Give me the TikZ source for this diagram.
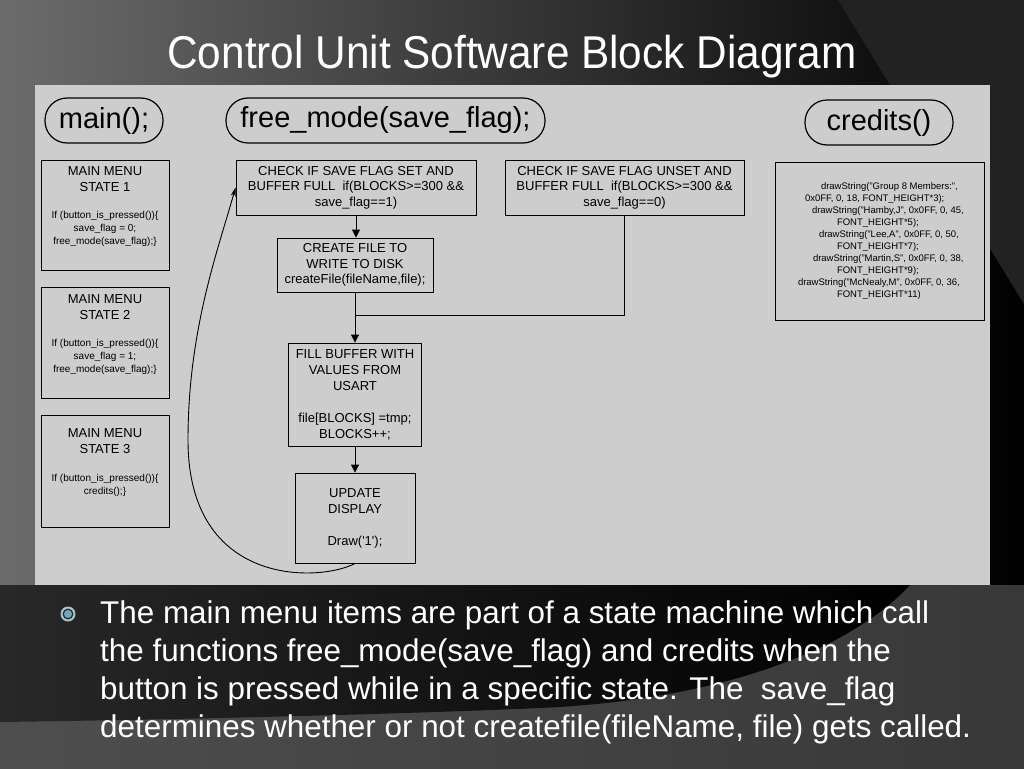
\documentclass[tikz,border=0pt]{standalone}
\usepackage{fontspec}
\setmainfont{Liberation Sans}
\newfontfamily\titlefont[FakeStretch=0.92]{Liberation Sans}
\usetikzlibrary{arrows.meta}

\definecolor{slidegray}{RGB}{108,108,108}
\definecolor{stripgray}{RGB}{34,34,34}
\definecolor{floorgray}{RGB}{78,78,78}
\definecolor{floordark}{RGB}{56,56,56}
\definecolor{swooshgray}{RGB}{40,40,40}
\definecolor{panelgray}{RGB}{205,205,205}
\definecolor{ringblue}{RGB}{170,196,204}
\definecolor{dotblue}{RGB}{112,168,184}

\begin{document}
\begin{tikzpicture}[x=1pt, y=-1pt,
    pill/.style={draw, line width=1.2pt, rounded corners=22pt, minimum height=45pt,
        inner sep=0pt, font=\fontsize{29}{34}\selectfont},
    blockbox/.style={draw, line width=0.9pt, align=center, inner sep=0pt,
        font=\fontsize{13}{15.5}\selectfont},
    menubox/.style={draw, line width=0.9pt, inner sep=0pt},
    flow/.style={line width=0.9pt, -{Triangle[length=8pt,width=8pt]}},
    loopback/.style={line width=0.9pt, -{Stealth[length=9pt,width=5pt]}}
]
    \useasboundingbox (0,0) rectangle (1024,768);

    % Slide background
    \shade[left color=slidegray, right color=black] (0,0) rectangle (1024,768);
    \fill[stripgray] (838,0) -- (1024,0) -- (1024,304) -- cycle;
    \shade[left color=floorgray, right color=floordark] (0,585) rectangle (1024,768);
    \shade[left color=swooshgray, right color=black]
        (0,585) -- (910,585) .. controls (850,650) and (720,700) .. (540,708)
        .. controls (380,715) and (150,720) .. (0,722) -- cycle;

    % Title
    \node[anchor=base, text=white, font=\titlefont\fontsize{46}{50}\selectfont] (title)
        at (512,68) {Control Unit Software Block Diagram};

    % Diagram panel
    \fill[panelgray] (35,85) rectangle (990,585);

    % Function headers
    \node[pill, minimum width=118pt] (mainfn) at (104,120.5) {main();};
    \node[pill, minimum width=319pt] (freefn) at (385.5,120.5) {free\_mode(save\_flag);};
    \node[pill, minimum width=148pt] (creditsfn) at (879,122.5) {credits()};

    % Main menu states (left column)
    \node[menubox] (state1) at (105,215) {\parbox[c][110pt][t]{128pt}{\centering
        \vspace*{7pt}\fontsize{13}{16}\selectfont MAIN MENU\\STATE 1\par
        \vspace{14pt}\fontsize{10}{13}\selectfont
        If (button\_is\_pressed())\{\\save\_flag = 0;\\free\_mode(save\_flag);\}}};
    \node[menubox] (state2) at (105,342.5) {\parbox[c][111pt][t]{128pt}{\centering
        \vspace*{8pt}\fontsize{13}{16}\selectfont MAIN MENU\\STATE 2\par
        \vspace{14pt}\fontsize{10}{13}\selectfont
        If (button\_is\_pressed())\{\\save\_flag = 1;\\free\_mode(save\_flag);\}}};
    \node[menubox] (state3) at (105,471) {\parbox[c][112pt][t]{128pt}{\centering
        \vspace*{14pt}\fontsize{13}{16}\selectfont MAIN MENU\\STATE 3\par
        \vspace{15pt}\fontsize{10}{13}\selectfont
        If (button\_is\_pressed())\{\\credits();\}}};

    % free_mode blocks
    \node[blockbox, minimum width=240pt, minimum height=55pt] (chkset) at (356,187.5)
        {CHECK IF SAVE FLAG SET AND\\BUFFER FULL\ \ if(BLOCKS>=300 \&\&\\save\_flag==1)};
    \node[blockbox, minimum width=239pt, minimum height=55pt] (chkunset) at (624.5,187.5)
        {CHECK IF SAVE FLAG UNSET AND\\BUFFER FULL\ \ if(BLOCKS>=300 \&\&\\save\_flag==0)};
    \node[blockbox, minimum width=156pt, minimum height=54pt] (create) at (355,265)
        {CREATE FILE TO\\WRITE TO DISK\\createFile(fileName,file);};
    \node[blockbox, minimum width=133pt, minimum height=103pt,
        font=\fontsize{13}{16}\selectfont] (fill) at (355,394.5)
        {FILL BUFFER WITH\\VALUES FROM\\USART\\[16pt]file[BLOCKS] =tmp;\\BLOCKS++;};
    \node[blockbox, minimum width=120pt, minimum height=90pt,
        font=\fontsize{13}{16}\selectfont] (update) at (355,518)
        {UPDATE\\DISPLAY\\[16pt]Draw(\textquotesingle1\textquotesingle);};

    % credits block
    \node[blockbox, minimum width=209pt, minimum height=158pt] (credbox) at (879.5,241)
        {\parbox{209pt}{\fontsize{9.5}{12}\selectfont\raggedright
        \hspace*{46pt}drawString("Group 8 Members:",\\
        \hspace*{30pt}0x0FF, 0, 18, FONT\_HEIGHT*3);\\
        \hspace*{37pt}drawString("Hamby,J", 0x0FF, 0, 45,\\
        \hspace*{62pt}FONT\_HEIGHT*5);\\
        \hspace*{44pt}drawString("Lee,A", 0x0FF, 0, 50,\\
        \hspace*{62pt}FONT\_HEIGHT*7);\\
        \hspace*{38pt}drawString("Martin,S", 0x0FF, 0, 38,\\
        \hspace*{62pt}FONT\_HEIGHT*9);\\
        \hspace*{23pt}drawString("McNealy,M", 0x0FF, 0, 36,\\
        \hspace*{62pt}FONT\_HEIGHT*11)}};

    % Connectors
    \coordinate (merge) at (355,315);
    \draw[flow] (chkset.south) -- (chkset.south |- create.north);
    \draw[flow] (create.south) -- (fill.north);
    \draw[line width=0.9pt] (chkunset.south) |- (merge);
    \draw[flow] (fill.south) -- (update.north);
    \draw[loopback] (update.south) .. controls (320,582) and (188,588) .. (188,440)
        .. controls (188,330) and (218,250) .. (chkset.west);

    % Bullet text
    \fill[ringblue] (68,614) circle (7.5pt);
    \fill[black!70!dotblue] (68,614) circle (5.5pt);
    \fill[dotblue] (68,614) circle (4pt);
    \node[anchor=north west, inner sep=0pt, align=left, text=white,
        font=\fontsize{31.4}{38}\selectfont] (bullettext) at (100,601)
        {The main menu items are part of a state machine which call\\
         the functions free\_mode(save\_flag) and credits when the\\
         button is pressed while in a specific state. The\ \ save\_flag\\
         determines whether or not createfile(fileName, file) gets called.};
\end{tikzpicture}
\end{document}
